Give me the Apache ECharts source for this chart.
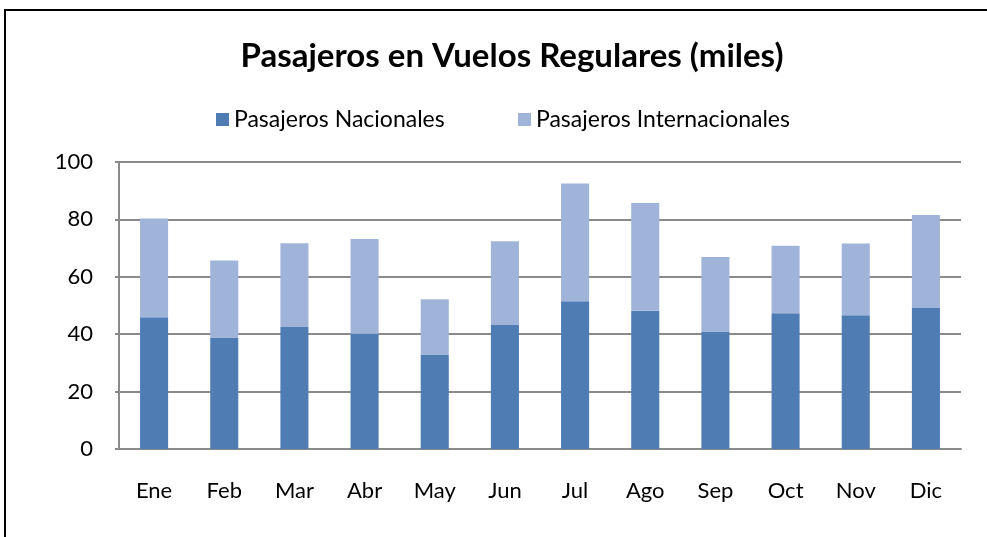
<!DOCTYPE html>
<html>
<head>
<meta charset="utf-8">
<script src="https://cdn.jsdelivr.net/npm/echarts@6/dist/echarts.min.js"></script>
<style>
  html, body { margin: 0; padding: 0; background: #fff; }
  #chart { width: 987px; height: 537px; }
</style>
</head>
<body>
<div id="chart"></div>
<script>
const months = ['Ene', 'Feb', 'Mar', 'Abr', 'May', 'Jun', 'Jul', 'Ago', 'Sep', 'Oct', 'Nov', 'Dic'];
const nacionales = [45.9, 38.7, 42.5, 40.2, 32.9, 43.2, 51.5, 48.2, 40.9, 47.3, 46.6, 49.1];
const internacionales = [34.4, 27.0, 29.2, 33.0, 19.3, 29.2, 41.0, 37.5, 26.0, 23.5, 25.0, 32.4];
const yTicks = [0, 20, 40, 60, 80, 100];

const font = 'Lato, "Open Sans", sans-serif';
const gridColor = '#8a8a8a';

const chart = echarts.init(document.getElementById('chart'));

function legendItem(name, left) {
  return {
    left,
    top: 108,
    padding: 0,
    itemWidth: 13,
    itemHeight: 13,
    itemGap: 0,
    icon: 'rect',
    textStyle: { fontFamily: font, fontSize: 23, color: '#000' },
    data: [name],
  };
}

chart.setOption({
  animation: false,
  textStyle: { fontFamily: font, color: '#000' },
  title: {
    text: 'Pasajeros en Vuelos Regulares (miles)',
    left: 507,
    textAlign: 'center',
    top: 35,
    textStyle: { fontFamily: font, fontSize: 33, fontWeight: 'bold', color: '#000' },
  },
  legend: [
    legendItem('Pasajeros Nacionales', 216),
    legendItem('Pasajeros Internacionales', 518),
  ],
  grid: { left: 119, right: 26, top: 162, bottom: 88 },
  xAxis: {
    type: 'category',
    data: months,
    axisLine: { lineStyle: { color: gridColor, width: 2 } },
    axisTick: { show: false },
    axisLabel: { color: '#000', fontSize: 22, margin: 31 },
  },
  yAxis: {
    type: 'value',
    min: yTicks[0],
    max: yTicks[yTicks.length - 1],
    interval: 20,
    axisLine: { show: true, lineStyle: { color: gridColor, width: 2 } },
    axisTick: { show: true, length: 4, lineStyle: { color: gridColor, width: 2 } },
    splitLine: { lineStyle: { color: gridColor, width: 2 } },
    axisLabel: { color: '#000', fontSize: 22, margin: 26 },
  },
  graphic: [{
    type: 'rect',
    shape: { x: 5, y: 10, width: 1000, height: 540 },
    style: { fill: 'none', stroke: '#000', lineWidth: 2 },
    silent: true,
  }],
  series: [
    {
      name: 'Pasajeros Nacionales',
      type: 'bar',
      stack: 'total',
      barWidth: '40%',
      data: nacionales,
      itemStyle: { color: '#4f7db3' },
    },
    {
      name: 'Pasajeros Internacionales',
      type: 'bar',
      stack: 'total',
      barWidth: '40%',
      data: internacionales,
      itemStyle: { color: '#a0b4da' },
    },
  ],
});
</script>
</body>
</html>
